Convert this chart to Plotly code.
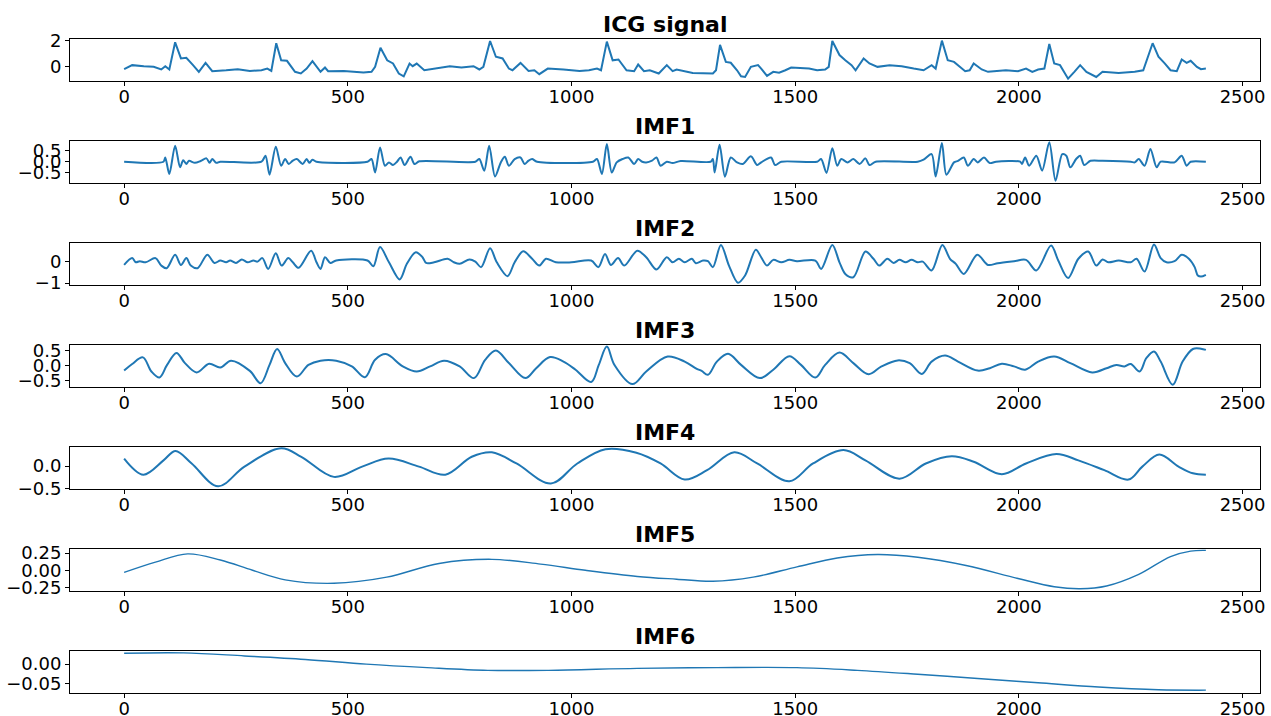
import plotly.graph_objects as go

# ---- data: sample index / value pairs for each signal ----
icg_t = [0, 18, 44, 66, 83, 92, 101, 114, 127, 139, 154, 167, 182, 197, 228, 254, 281, 307, 320, 329,
         340, 351, 364, 382, 395, 408, 421, 439, 449, 456, 491, 518, 535, 553, 561, 573, 588, 601, 614, 625,
         638, 645, 654, 671, 702, 728, 754, 781, 794, 803, 818, 831, 846, 860, 868, 886, 904, 917, 928, 947,
         982, 1018, 1039, 1057, 1066, 1079, 1092, 1105, 1123, 1140, 1149, 1162, 1175, 1195, 1213, 1226, 1235, 1271, 1316, 1323,
         1332, 1345, 1356, 1370, 1379, 1388, 1401, 1417, 1424, 1437, 1451, 1464, 1478, 1491, 1531, 1549, 1567, 1575, 1583, 1599,
         1612, 1626, 1635, 1653, 1666, 1684, 1711, 1738, 1765, 1787, 1805, 1814, 1828, 1841, 1855, 1868, 1880, 1890, 1899, 1917,
         1931, 1971, 1998, 2016, 2030, 2043, 2057, 2068, 2079, 2092, 2110, 2124, 2137, 2151, 2173, 2187, 2223, 2259, 2278, 2299,
         2312, 2326, 2339, 2353, 2364, 2375, 2384, 2398, 2407, 2418]
icg_v = [-0.18, 0.13, 0.05, 0.0, -0.2, 0.05, -0.2, 1.87, 0.64, 0.69, 0.13, -0.38, 0.31, -0.33, -0.26, -0.18, -0.31, -0.26, -0.13, -0.31,
         1.8, 0.5, 0.46, -0.38, -0.5, -0.13, 0.44, -0.38, -0.05, -0.33, -0.31, -0.36, -0.44, -0.38, 0.0, 1.46, 0.5, 0.26, -0.51, -0.72,
         0.25, 0.05, 0.25, -0.26, -0.08, 0.05, -0.05, 0.05, -0.2, 0.0, 1.97, 0.77, 0.64, -0.13, -0.26, 0.3, -0.31, -0.26, -0.56, -0.13,
         -0.2, -0.31, -0.26, -0.13, -0.26, 1.92, 0.5, 0.56, -0.26, -0.33, 0.18, -0.33, -0.26, -0.51, 0.13, -0.33, -0.2, -0.46, -0.51, -0.26,
         1.67, 0.38, 0.31, -0.26, -0.72, -0.77, 0.0, 0.13, -0.13, -0.69, -0.38, -0.44, -0.26, -0.05, -0.13, -0.26, -0.2, 0.0, 1.97, 0.9,
         0.5, 0.13, -0.26, 0.64, 0.26, 0.0, 0.13, 0.05, -0.13, -0.26, 0.13, -0.13, 2.0, 0.5, 0.38, 0.0, -0.33, -0.26, 0.26, -0.2,
         -0.38, -0.26, -0.33, -0.13, -0.38, -0.2, -0.13, 1.74, 0.26, 0.13, -0.9, -0.38, 0.13, -0.38, -0.77, -0.38, -0.46, -0.38, -0.26, 1.8,
         0.77, 0.26, -0.26, -0.33, 0.56, 0.31, 0.46, 0.0, -0.18, -0.13]

imf1_t = [0, 88, 92, 101, 114, 125, 132, 139, 145, 158, 171, 184, 191, 197, 206, 215, 307, 316, 325, 339,
          351, 360, 368, 377, 386, 399, 408, 414, 421, 430, 544, 553, 561, 572, 583, 592, 601, 610, 618, 627,
          640, 649, 660, 785, 794, 805, 816, 829, 842, 851, 860, 873, 886, 895, 904, 912, 923, 1048, 1057, 1068,
          1079, 1090, 1101, 1114, 1127, 1140, 1149, 1158, 1167, 1180, 1190, 1199, 1213, 1226, 1244, 1311, 1316, 1320, 1331, 1343,
          1356, 1370, 1383, 1401, 1415, 1424, 1446, 1455, 1469, 1549, 1558, 1570, 1583, 1594, 1603, 1617, 1630, 1644, 1657, 1666,
          1680, 1774, 1787, 1805, 1814, 1828, 1838, 1855, 1864, 1877, 1886, 1899, 1908, 1922, 1935, 1949, 2003, 2007, 2014, 2023,
          2039, 2052, 2068, 2082, 2097, 2106, 2115, 2128, 2137, 2146, 2160, 2187, 2250, 2259, 2268, 2281, 2294, 2308, 2317, 2348,
          2364, 2375, 2384, 2418]
imf1_v = [0.0, 0.0, 0.19, -0.55, 0.72, -0.25, 0.07, -0.1, 0.04, -0.05, 0.03, 0.15, -0.05, 0.12, -0.05, 0.0, 0.0, 0.27, -0.58, 0.67,
          -0.18, 0.12, -0.1, 0.05, 0.12, -0.1, 0.12, -0.05, 0.09, 0.0, 0.0, 0.12, -0.48, 0.64, -0.18, -0.03, -0.15, 0.0, 0.19, -0.15,
          0.22, -0.1, 0.02, 0.0, 0.12, -0.4, 0.72, -0.66, -0.03, 0.22, -0.18, 0.12, 0.19, -0.1, 0.05, 0.12, 0.0, 0.0, 0.12, -0.55,
          0.79, -0.48, -0.03, 0.12, 0.19, -0.1, 0.12, 0.0, -0.03, 0.05, 0.19, -0.18, 0.0, -0.06, 0.03, 0.0, 0.12, -0.48, 0.76, -0.67,
          0.19, -0.03, -0.1, 0.24, -0.15, -0.03, 0.19, -0.15, 0.0, 0.0, 0.12, -0.5, 0.6, -0.18, 0.12, -0.03, 0.12, -0.1, 0.15, -0.15,
          0.0, 0.0, 0.09, 0.34, -0.66, 0.84, -0.58, -0.03, 0.04, 0.19, -0.18, 0.12, -0.03, 0.19, -0.06, 0.0, 0.0, -0.1, 0.19, -0.18,
          0.27, -0.4, 0.87, -0.85, 0.34, 0.27, -0.25, 0.12, 0.27, -0.15, 0.04, 0.04, 0.0, -0.03, 0.12, -0.18, 0.57, -0.25, 0.0, -0.03,
          0.27, -0.18, 0.0, 0.0]

imf2_t = [0, 18, 26, 35, 48, 70, 83, 95, 114, 127, 139, 149, 164, 186, 202, 215, 228, 237, 250, 263,
          276, 289, 298, 309, 322, 339, 352, 367, 377, 390, 418, 430, 439, 449, 461, 474, 544, 557, 572, 592,
          616, 632, 652, 667, 675, 693, 723, 737, 750, 772, 785, 798, 818, 833, 857, 873, 892, 912, 928, 943,
          965, 1000, 1044, 1060, 1075, 1088, 1104, 1118, 1147, 1167, 1190, 1213, 1226, 1240, 1253, 1269, 1278, 1294, 1305, 1316,
          1334, 1352, 1372, 1388, 1412, 1424, 1437, 1451, 1469, 1487, 1504, 1545, 1558, 1583, 1599, 1612, 1630, 1657, 1675, 1688,
          1706, 1720, 1733, 1747, 1760, 1774, 1785, 1805, 1829, 1846, 1859, 1877, 1907, 1931, 1953, 1989, 2016, 2039, 2072, 2088,
          2110, 2133, 2155, 2173, 2187, 2200, 2223, 2250, 2263, 2281, 2302, 2317, 2330, 2348, 2364, 2380, 2393, 2400, 2407, 2418]
imf2_v = [-0.17, 0.14, -0.05, 0.0, -0.05, 0.14, -0.2, -0.32, 0.29, -0.17, 0.14, -0.2, -0.32, 0.29, -0.08, 0.03, -0.05, 0.03, -0.08, 0.08,
          -0.05, 0.03, -0.02, 0.14, -0.35, 0.36, -0.2, 0.14, -0.05, -0.3, 0.48, -0.05, -0.35, 0.18, -0.08, 0.03, 0.03, -0.23, 0.64, -0.05,
          -0.83, -0.12, 0.41, 0.18, -0.08, -0.05, 0.11, -0.05, -0.12, 0.08, -0.02, -0.27, 0.59, -0.05, -0.68, -0.05, 0.45, 0.11, -0.2, 0.11,
          -0.05, -0.05, 0.03, -0.27, 0.33, -0.17, 0.14, -0.2, 0.48, 0.18, -0.38, 0.18, -0.05, 0.11, -0.05, 0.11, -0.09, 0.03, 0.0, -0.27,
          0.74, -0.2, -0.98, -0.65, 0.52, 0.18, -0.2, 0.06, -0.05, 0.06, 0.0, 0.03, -0.35, 0.74, -0.05, -0.58, -0.73, 0.44, 0.11, -0.2,
          0.11, -0.08, 0.06, -0.05, 0.06, -0.05, -0.02, -0.42, 0.74, 0.11, -0.12, -0.58, 0.29, -0.17, -0.09, 0.0, 0.06, -0.42, 0.71, 0.03,
          -0.77, 0.11, 0.44, -0.2, 0.08, -0.05, 0.03, -0.05, 0.11, -0.47, 0.76, 0.14, -0.05, 0.0, 0.29, 0.11, -0.27, -0.65, -0.7, -0.62]

imf3_t = [0, 18, 42, 61, 79, 96, 117, 136, 162, 190, 215, 239, 281, 305, 325, 342, 360, 386, 412, 439,
          474, 509, 538, 561, 585, 623, 654, 684, 715, 750, 782, 807, 831, 860, 897, 921, 952, 982, 1009, 1044,
          1061, 1079, 1096, 1136, 1167, 1215, 1253, 1280, 1291, 1305, 1325, 1350, 1379, 1421, 1451, 1487, 1513, 1545, 1567, 1599,
          1630, 1664, 1693, 1729, 1756, 1783, 1805, 1835, 1864, 1908, 1935, 1962, 1989, 2014, 2043, 2079, 2115, 2164, 2196, 2218,
          2236, 2250, 2270, 2285, 2302, 2317, 2344, 2366, 2389, 2407, 2418]
imf3_v = [-0.16, 0.06, 0.28, -0.19, -0.39, 0.03, 0.43, 0.09, -0.22, 0.07, -0.06, 0.17, -0.17, -0.58, 0.03, 0.56, 0.09, -0.36, 0.03, 0.17,
          0.17, -0.02, -0.38, 0.2, 0.39, -0.02, -0.19, -0.02, 0.17, -0.02, -0.41, 0.2, 0.51, 0.09, -0.41, -0.08, 0.29, 0.14, -0.13, -0.54,
          0.03, 0.64, 0.03, -0.61, -0.19, 0.31, 0.14, -0.1, -0.17, -0.3, 0.14, 0.4, 0.03, -0.41, -0.13, 0.32, 0.03, -0.39, 0.03, 0.44,
          0.09, -0.28, -0.02, 0.18, 0.09, -0.27, 0.14, 0.34, 0.14, -0.16, -0.08, 0.07, -0.02, -0.13, 0.14, 0.31, 0.09, -0.22, -0.08, 0.03,
          -0.02, 0.06, -0.19, 0.26, 0.48, 0.14, -0.63, 0.14, 0.56, 0.57, 0.53]

imf4_t = [0, 43, 88, 115, 151, 210, 269, 351, 396, 469, 532, 591, 659, 718, 777, 822, 877, 954, 1013, 1076,
          1145, 1199, 1253, 1303, 1364, 1415, 1487, 1540, 1608, 1657, 1733, 1792, 1850, 1899, 1962, 2016, 2084, 2133, 2191, 2245,
          2276, 2314, 2357, 2389, 2418]
imf4_v = [0.17, -0.19, 0.13, 0.34, 0.06, -0.45, -0.01, 0.40, 0.21, -0.24, -0.01, 0.17, -0.01, -0.19, 0.21, 0.31, 0.06, -0.39, 0.06, 0.38,
          0.3, 0.06, -0.3, -0.09, 0.31, 0.06, -0.34, 0.06, 0.36, 0.13, -0.28, 0.06, 0.22, 0.1, -0.18, 0.06, 0.27, 0.13, -0.09, -0.3,
          -0.01, 0.26, -0.01, -0.16, -0.19]

imf5_t = [0, 70, 142, 215, 287, 360, 469, 587, 704, 822, 931, 1031, 1147, 1235, 1316, 1406, 1504, 1594, 1684, 1774,
          1882, 1998, 2079, 2137, 2196, 2268, 2339, 2384, 2418]
imf5_v = [-0.03, 0.12, 0.24, 0.15, 0.0, -0.14, -0.19, -0.1, 0.1, 0.16, 0.09, 0.0, -0.09, -0.13, -0.16, -0.1, 0.05, 0.18, 0.23, 0.19,
          0.07, -0.12, -0.24, -0.27, -0.23, -0.06, 0.2, 0.28, 0.29]

imf6_t = [0, 133, 269, 405, 541, 677, 813, 949, 1147, 1325, 1504, 1639, 1774, 1908, 2043, 2178, 2312, 2418]
imf6_v = [0.028, 0.029, 0.021, 0.012, 0.0, -0.009, -0.016, -0.016, -0.011, -0.009, -0.009, -0.016, -0.026, -0.037, -0.048, -0.059,
          -0.066, -0.067]

titles = ["ICG signal", "IMF1", "IMF2", "IMF3", "IMF4", "IMF5", "IMF6"]
x_ticks = [0, 500, 1000, 1500, 2000, 2500]

y_ticks = [[0, 2], [-0.5, 0.0, 0.5], [-1, 0], [-0.5, 0.0, 0.5], [-0.5, 0.0],
           [-0.25, 0.0, 0.25], [-0.05, 0.0]]
y_tick_text = [["0", "2"], ["\u22120.5", "0.0", "0.5"], ["\u22121", "0"],
               ["\u22120.5", "0.0", "0.5"], ["\u22120.5", "0.0"],
               ["\u22120.25", "0.00", "0.25"], ["\u22120.05", "0.00"]]

# ---- figure layout ----
W, H = 1271, 716
AX_L, AX_R = 70, 1260
FIRST_TOP, PITCH, PANEL_H = 38.5, 102, 42
X_RANGE = [-121, 2539]
y_ranges = [[-1.04, 2.16], [-0.93, 0.95], [-1.06, 0.85], [-0.69, 0.71],
            [-0.5, 0.44], [-0.295, 0.318], [-0.073, 0.035]]
line_widths = [2, 2, 2, 2, 2, 1.4, 1.4]
shapes = ["linear", "spline", "spline", "spline", "spline", "spline", "spline"]
smooth = [0, 0.8, 0.9, 1.0, 1.0, 1.0, 1.0]

series = [(icg_t, icg_v), (imf1_t, imf1_v), (imf2_t, imf2_v), (imf3_t, imf3_v),
          (imf4_t, imf4_v), (imf5_t, imf5_v), (imf6_t, imf6_v)]

fig = go.Figure()
layout = dict(width=W, height=H, margin=dict(l=0, r=0, t=0, b=0, autoexpand=False),
              paper_bgcolor="white", plot_bgcolor="white", showlegend=False,
              font=dict(family="DejaVu Sans", size=18, color="black"))
annotations = []
axis_style = dict(showline=True, linecolor="black", linewidth=1, mirror=True,
                  ticks="outside", ticklen=4, tickwidth=1, tickcolor="black",
                  showgrid=False, zeroline=False, automargin=False,
                  tickfont=dict(family="DejaVu Sans", size=18, color="black"))

for i, ((t, v), title) in enumerate(zip(series, titles)):
    n = "" if i == 0 else str(i + 1)
    top = FIRST_TOP + PITCH * i
    bottom = top + PANEL_H
    line = dict(color="#1f77b4", width=line_widths[i], shape=shapes[i])
    if shapes[i] == "spline":
        line["smoothing"] = smooth[i]
    fig.add_trace(go.Scatter(x=t, y=v, mode="lines", xaxis="x" + n, yaxis="y" + n,
                             line=line, hoverinfo="skip"))
    layout["xaxis" + n] = dict(axis_style, domain=[AX_L / W, AX_R / W], range=X_RANGE,
                               tickvals=x_ticks, anchor="y" + n, ticklabelstandoff=-4)
    layout["yaxis" + n] = dict(axis_style, domain=[1 - bottom / H, 1 - top / H],
                               range=y_ranges[i], tickvals=y_ticks[i],
                               ticktext=y_tick_text[i], anchor="x" + n)
    annotations.append(dict(text="<b>%s</b>" % title, xref="paper", yref="paper",
                            x=(AX_L + AX_R) / 2 / W, y=1 - (top - 14) / H,
                            xanchor="center", yanchor="middle", showarrow=False,
                            font=dict(family="DejaVu Sans", size=22, color="black")))

layout["annotations"] = annotations
fig.update_layout(**layout)
fig.write_html("out.html")
